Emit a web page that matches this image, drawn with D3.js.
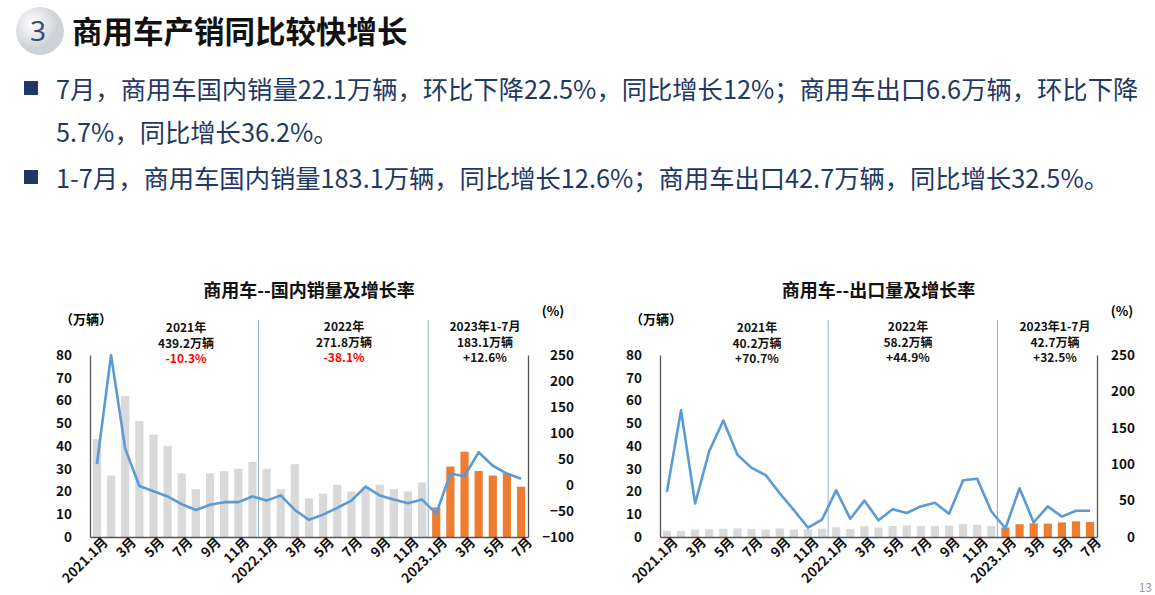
<!DOCTYPE html>
<html><head><meta charset="utf-8">
<script src="https://cdn.jsdelivr.net/npm/d3@7"></script>
<style>
body{margin:0;background:#fff;font-family:"Noto Sans CJK SC","Noto Sans",sans-serif;}
</style></head>
<body><svg id="page" width="1155" height="595"></svg>
<script>
var months = ["2021.1月","2月","3月","4月","5月","6月","7月","8月","9月","10月","11月","12月",
  "2022.1月","2月","3月","4月","5月","6月","7月","8月","9月","10月","11月","12月",
  "2023.1月","2月","3月","4月","5月","6月","7月"];
var domesticSales = [43,27,62,51,45,40,28,21,28,29,30,33, 30,21,32,17,19,23,20,22,23,21,20,24, 13,31,37.5,29,27,28,22.1];
var domesticGrowth = [40,250,70,-2,-12,-22,-37,-48,-38,-33,-33,-22, -30,-20,-48,-67,-57,-44,-30,-3,-20,-28,-35,-28, -55,22,17,63,37,22,12];
var exportSales = [2.7,2.7,3.3,3.5,3.6,3.8,3.5,3.3,3.8,3.3,3.5,3.7, 4.3,3.5,4.8,4.2,4.8,5.1,4.9,4.9,5.0,5.7,5.3,4.8, 4.2,5.6,6.0,5.9,6.4,6.9,6.6];
var exportGrowth = [62,174,46,118,160,113,95,85,60,37,13,24, 64,25,50,23,38,33,42,47,32,78,80,35, 12,67,20,42,28,36,36];
var leftTicks = [0,10,20,30,40,50,60,70,80];
var domesticRightTicks = [-100,-50,0,50,100,150,200,250];
var exportRightTicks = [0,50,100,150,200,250];
var domesticNotes = [["2021年","439.2万辆","-10.3%"],["2022年","271.8万辆","-38.1%"],["2023年1-7月","183.1万辆","+12.6%"]];
var exportNotes = [["2021年","40.2万辆","+70.7%"],["2022年","58.2万辆","+44.9%"],["2023年1-7月","42.7万辆","+32.5%"]];

var svg = d3.select("#page");
var navy = "#1f3864";

// header
var grad = svg.append("defs").append("radialGradient").attr("id","ball").attr("cx","35%").attr("cy","35%");
grad.append("stop").attr("offset","0%").attr("stop-color","#ffffff");
grad.append("stop").attr("offset","100%").attr("stop-color","#cfd3d8");
svg.append("circle").attr("cx",40).attr("cy",31).attr("r",24).attr("fill","url(#ball)");
svg.append("text").attr("x",38).attr("y",41).attr("text-anchor","middle").attr("font-size",28)
  .attr("font-family","Noto Sans").attr("fill","#2f4f75").text("3");
svg.append("text").attr("x",72).attr("y",43).attr("font-size",30.5).attr("font-weight","bold")
  .attr("fill","#111").text("商用车产销同比较快增长");

var bullets = [
  {y:99, sq:true, t:"7月，商用车国内销量22.1万辆，环比下降22.5%，同比增长12%；商用车出口6.6万辆，环比下降"},
  {y:142, sq:false, t:"5.7%，同比增长36.2%。"},
  {y:188, sq:true, t:"1-7月，商用车国内销量183.1万辆，同比增长12.6%；商用车出口42.7万辆，同比增长32.5%。"}
];
bullets.forEach(function(b){
  if (b.sq) svg.append("rect").attr("x",24).attr("y",b.y-18).attr("width",14).attr("height",14).attr("fill",navy);
  svg.append("text").attr("x",56).attr("y",b.y).attr("font-size",25.3).attr("fill",navy).text(b.t);
});

function drawChart(opt){
  var g = svg.append("g");
  var x = d3.scaleBand().domain(d3.range(months.length)).range([opt.x0, opt.x1]).paddingInner(0.42).paddingOuter(0.2);
  var y = d3.scaleLinear().domain([0,80]).range([537,355]);
  var y2 = d3.scaleLinear().domain(opt.rdomain).range([537,355]);

  g.append("text").attr("x",(opt.x0+opt.x1)/2).attr("y",297).attr("text-anchor","middle")
    .attr("font-size",18).attr("font-weight","bold").attr("fill","#111").text(opt.title);
  g.append("text").attr("x",opt.x0-30).attr("y",324).attr("font-size",13).attr("font-weight","bold").text("（万辆）");
  g.append("text").attr("x",opt.x1+25).attr("y",316).attr("text-anchor","middle").attr("font-size",13).attr("font-weight","bold").text("(%)");

  // bars
  g.selectAll("rect.bar").data(opt.bars).enter().append("rect")
    .attr("x",function(d,i){return x(i);}).attr("width",x.bandwidth())
    .attr("y",function(d){return y(d);}).attr("height",function(d){return y(0)-y(d);})
    .attr("fill",function(d,i){return i>=24 ? "#ed7d31" : "#d9d9d9";});

  // dividers
  [12,24].forEach(function(i){
    var xx = x(i) - x.step()*x.paddingInner()/2 - 1;
    g.append("line").attr("x1",xx).attr("x2",xx).attr("y1",320).attr("y2",537).attr("stroke","#8fb0d8").attr("stroke-width",1);
  });

  // line
  g.append("path").datum(opt.line)
    .attr("fill","none").attr("stroke","#5b9bd5").attr("stroke-width",2.6).attr("stroke-linejoin","round")
    .attr("d", d3.line().x(function(d,i){return x(i)+x.bandwidth()/2;}).y(function(d){return y2(d);}));

  // axes
  var ax = g.append("g").attr("transform","translate("+opt.x0+",0)")
    .call(d3.axisLeft(y).tickValues(leftTicks).tickSize(0).tickPadding(18));
  var ax2 = g.append("g").attr("transform","translate("+opt.x1+",0)")
    .call(d3.axisRight(y2).tickValues(opt.rticks).tickSize(0).tickPadding(opt.rpad));
  ax2.selectAll("text").attr("text-anchor","end");
  var bx = g.append("g").attr("transform","translate(0,537)")
    .call(d3.axisBottom(x).tickValues(d3.range(0,months.length,2)).tickFormat(function(i){ return months[i]; })
      .tickSize(0).tickPadding(6));
  bx.selectAll("text").attr("text-anchor","end").attr("dx","0.3em").attr("dy","0.5em")
    .attr("transform","rotate(-45)");
  [ax,ax2,bx].forEach(function(a){
    a.selectAll("text").attr("font-size",13.5).attr("font-weight","bold").attr("fill","#111")
      .attr("font-family","Noto Sans CJK SC");
    a.select(".domain").attr("stroke","#555").attr("stroke-width",1.3);
  });

  // notes
  opt.notes.forEach(function(n,k){
    var cx = opt.noteX[k];
    n.forEach(function(s,j){
      g.append("text").attr("x",cx).attr("y",opt.noteY[k]+j*15.5).attr("text-anchor","middle")
        .attr("font-size",12).attr("font-weight","bold")
        .attr("fill", j==2 && s[0]=="-" ? "#ff0000" : "#111").text(s);
    });
  });
}

drawChart({title:"商用车--国内销量及增长率", x0:90, x1:528, bars:domesticSales, line:domesticGrowth,
  rdomain:[-100,250], rticks:domesticRightTicks, rpad:46, notes:domesticNotes,
  noteX:[186,344,485], noteY:[332,331,331]});
drawChart({title:"商用车--出口量及增长率", x0:660, x1:1097, bars:exportSales, line:exportGrowth,
  rdomain:[0,250], rticks:exportRightTicks, rpad:38, notes:exportNotes,
  noteX:[757,908,1055], noteY:[332,331,331]});

svg.append("text").attr("x",1152).attr("y",592).attr("text-anchor","end").attr("font-size",12).attr("fill","#999").text("13");
</script></body></html>
